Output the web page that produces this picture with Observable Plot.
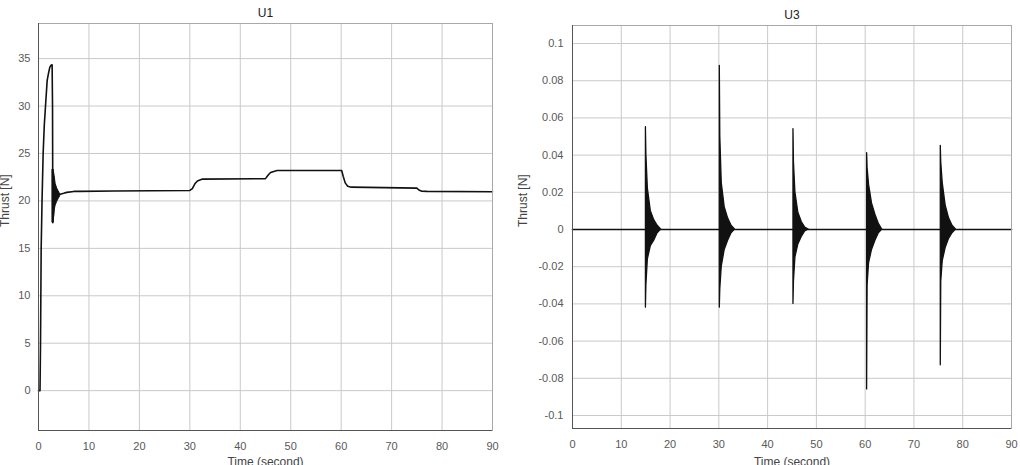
<!DOCTYPE html>
<html><head><meta charset="utf-8">
<script src="https://cdn.jsdelivr.net/npm/d3@7"></script>
<script src="https://cdn.jsdelivr.net/npm/@observablehq/plot@0.6"></script>
<style>
html,body{margin:0;padding:0;background:#fff;}
#wrap{position:relative;width:1020px;height:465px;overflow:hidden;}
#left,#right{position:absolute;top:0;}
#left{left:0;} #right{left:510px;}
</style></head><body><div id="wrap"><div id="left"></div><div id="right"></div></div>
<script>
// ---------- shared ----------
const xTicks = [0, 10, 20, 30, 40, 50, 60, 70, 80, 90];
const xDomain = [0, 90];

// ---------- U1 ----------
const u1Time   = [0, 0.3, 0.4, 0.53, 0.7, 0.92, 1.15, 1.39, 1.72, 2.0, 2.25, 2.5, 2.7, 2.78, 2.84, 3.2, 3.7, 4.3, 5.0, 5.6, 7.0, 8.2, 15, 30, 30.5, 31, 31.5, 32.5, 45, 45.5, 46, 47.3, 60.1, 60.4, 60.8, 61.3, 62, 75, 75.4, 76, 77, 90];
const u1Thrust = [0, 0, 5, 15, 20, 25, 28, 30, 32.7, 33.5, 34.1, 34.3, 34.35, 30, 17.7, 20.4, 20.6, 20.7, 20.8, 20.9, 21.0, 21.0, 21.05, 21.1, 21.3, 21.8, 22.1, 22.3, 22.35, 22.7, 23.0, 23.2, 23.2, 22.6, 21.9, 21.55, 21.45, 21.35, 21.15, 21.02, 21.0, 20.97];
const u1OscTime  = [2.84, 3.0, 3.2, 3.4, 3.7, 4.0, 4.3];
const u1OscUpper = [23.3, 23.3, 22.6, 21.8, 21.3, 21.0, 20.7];
const u1OscLower = [17.7, 17.7, 19.0, 19.5, 19.9, 20.2, 20.5];
const u1YTicks = [0, 5, 10, 15, 20, 25, 30, 35];
const u1YDomain = [-4.2, 38.7];

// ---------- U3 ----------
const u3EnvTime = [
  [15.05, 15.15, 15.45, 16.05, 16.75, 17.45, 18.15],
  [30.2, 30.3, 30.6, 31.2, 31.9, 32.6, 33.3],
  [45.3, 45.4, 45.7, 46.3, 47.0, 47.7, 48.4],
  [60.4, 60.5, 60.8, 61.4, 62.1, 62.8, 63.5],
  [75.5, 75.6, 75.9, 76.5, 77.2, 77.9, 78.6]
];
const u3EnvUpper = [
  [0.055, 0.040, 0.022, 0.010, 0.005, 0.002, 0],
  [0.088, 0.050, 0.025, 0.012, 0.006, 0.002, 0],
  [0.054, 0.036, 0.020, 0.009, 0.004, 0.001, 0],
  [0.041, 0.033, 0.024, 0.014, 0.008, 0.003, 0],
  [0.045, 0.036, 0.025, 0.013, 0.006, 0.002, 0]
];
const u3EnvLower = [
  [-0.042, -0.030, -0.016, -0.009, -0.006, -0.002, 0],
  [-0.042, -0.032, -0.020, -0.011, -0.006, -0.002, 0],
  [-0.040, -0.028, -0.015, -0.008, -0.004, -0.001, 0],
  [-0.086, -0.030, -0.018, -0.011, -0.006, -0.002, 0],
  [-0.073, -0.028, -0.017, -0.010, -0.005, -0.002, 0]
];
const u3BaseTime = [0, 90];
const u3BaseThrust = [0, 0];
const u3YTicks = [-0.1, -0.08, -0.06, -0.04, -0.02, 0, 0.02, 0.04, 0.06, 0.08, 0.1];
const u3YDomain = [-0.107, 0.1097];

// ---------- tables ----------
const u1Line = u1Time.map((t, i) => ({t, v: u1Thrust[i]}));
const u1Osc = u1OscTime.map((t, i) => ({t, hi: u1OscUpper[i], lo: u1OscLower[i]}));
const u3Env = u3EnvTime.flatMap((ts, s) => ts.map((t, i) => ({spike: s, t, hi: u3EnvUpper[s][i], lo: u3EnvLower[s][i]})));
const u3Base = u3BaseTime.map((t, i) => ({t, v: u3BaseThrust[i]}));

const font = "'Liberation Sans', Arial, Helvetica, sans-serif";
const gridStyle = {stroke: "#c9c9c9", strokeOpacity: 1, strokeWidth: 1};
const lineColor = "#111";

function fmt3(d) {
  if (Math.abs(d) < 1e-9) return "0";
  return String(+d.toFixed(2));
}

function axesMarks(yDomain) {
  return [
    Plot.frame({stroke: "#a8a8a8"}),
    Plot.ruleX([xDomain[0]], {stroke: "#555"}),
    Plot.ruleY([yDomain[0]], {stroke: "#555"})
  ];
}

const left = Plot.plot({
  width: 510, height: 465,
  marginLeft: 38, marginRight: 18, marginTop: 23, marginBottom: 35,
  style: {fontFamily: font, fontSize: "11px", color: "#595959", background: "transparent"},
  x: {domain: xDomain, ticks: xTicks, tickSize: 0, tickPadding: 12, label: null, tickFormat: d => String(d)},
  y: {domain: u1YDomain, ticks: u1YTicks, tickSize: 0, tickPadding: 8, label: null, tickFormat: d => String(d)},
  marks: [
    Plot.gridX(xTicks, gridStyle),
    Plot.gridY(u1YTicks, gridStyle),
    Plot.areaY(u1Osc, {x: "t", y1: "lo", y2: "hi", fill: lineColor, stroke: lineColor, strokeWidth: 1}),
    Plot.line(u1Line, {x: "t", y: "v", stroke: lineColor, strokeWidth: 1.6}),
    ...axesMarks(u1YDomain),
    Plot.text(["U1"], {text: d => d, frameAnchor: "top", dy: -15, fontSize: 12, fill: "#222"}),
    Plot.text(["Thrust [N]"], {text: d => d, frameAnchor: "left", dx: -33, rotate: -90, fontSize: 12, fill: "#444"}),
    Plot.text(["Time (second)"], {text: d => d, frameAnchor: "bottom", dy: 35, fontSize: 12, fill: "#444"})
  ]
});
document.getElementById("left").append(left);

const right = Plot.plot({
  width: 510, height: 465,
  marginLeft: 62, marginRight: 9, marginTop: 25, marginBottom: 37,
  style: {fontFamily: font, fontSize: "11px", color: "#595959", background: "transparent"},
  x: {domain: xDomain, ticks: xTicks, tickSize: 0, tickPadding: 12, label: null, tickFormat: d => String(d)},
  y: {domain: u3YDomain, ticks: u3YTicks, tickSize: 0, tickPadding: 9, label: null, tickFormat: fmt3},
  marks: [
    Plot.gridX(xTicks, gridStyle),
    Plot.gridY(u3YTicks, gridStyle),
    Plot.line(u3Base, {x: "t", y: "v", stroke: lineColor, strokeWidth: 1.6}),
    Plot.areaY(u3Env, {x: "t", y1: "lo", y2: "hi", z: "spike", fill: lineColor, stroke: lineColor, strokeWidth: 1.3}),
    ...axesMarks(u3YDomain),
    Plot.text(["U3"], {text: d => d, frameAnchor: "top", dy: -15, fontSize: 12, fill: "#222"}),
    Plot.text(["Thrust [N]"], {text: d => d, frameAnchor: "left", dx: -49, rotate: -90, fontSize: 12, fill: "#444"}),
    Plot.text(["Time (second)"], {text: d => d, frameAnchor: "bottom", dy: 37, fontSize: 12, fill: "#444"})
  ]
});
document.getElementById("right").append(right);
</script>
</body></html>
